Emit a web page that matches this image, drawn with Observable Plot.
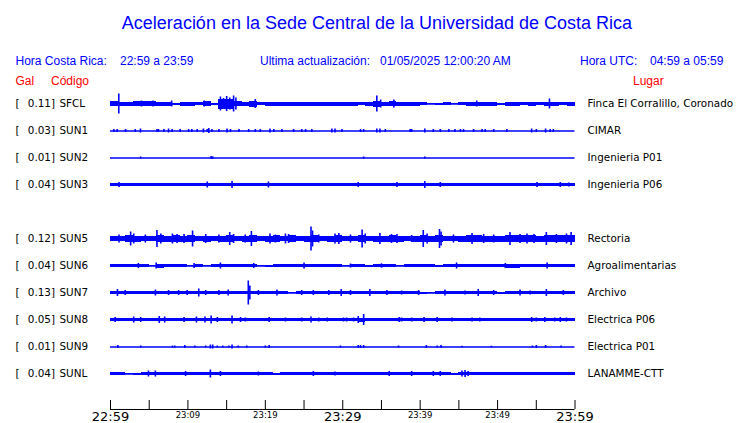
<!DOCTYPE html>
<html><head><meta charset="utf-8">
<script src="https://cdn.jsdelivr.net/npm/d3@7"></script>
<script src="https://cdn.jsdelivr.net/npm/@observablehq/plot@0.6"></script>
<style>
body{margin:0;background:#fff;}
#wrap{position:relative;width:740px;height:423px;overflow:hidden;background:#fff;}
#head{position:absolute;left:0;top:0;}
#traces{position:absolute;left:0;top:90px;}
#axis{position:absolute;left:0;top:386px;}
</style></head><body>
<div id="wrap"><svg id="head" width="740" height="89"></svg><div id="axis"></div><div id="traces"></div></div>
<script>
// ---- text ----
const title = "Aceleración en la Sede Central de la Universidad de Costa Rica";
const hdrCR = ["Hora Costa Rica:", "22:59 a 23:59"];
const hdrUpd = ["Ultima actualización:", "01/05/2025 12:00:20 AM"];
const hdrUTC = ["Hora UTC:", "04:59 a 05:59"];
const colHeads = ["Gal", "Código", "Lugar"];

// ---- stations ----
const slots = ["SFCL","SUN1","SUN2","SUN3","SUN4","SUN5","SUN6","SUN7","SUN8","SUN9","SUNL"];
const codes = ["SFCL","SUN1","SUN2","SUN3","SUN5","SUN6","SUN7","SUN8","SUN9","SUNL"];
const gal = [0.11,0.03,0.01,0.04,0.12,0.04,0.13,0.05,0.01,0.04];
const places = ["Finca El Corralillo, Coronado","CIMAR","Ingenieria P01","Ingenieria P06","Rectoria","Agroalimentarias","Archivo","Electrica P06","Electrica P01","LANAMME-CTT"];

// ---- per-minute envelope (relative amplitude) ----
const envSFCL = [2.5,2,2,2.2,2.5,2.2,2,2,1,2, 2,1.5,2.5,1,5,5,2.5,2,3,1.5, 2,2,2,2,2,2,2,2,2,2, 2,2,1.5,2,3,2,2.5,2,2,2, 1.5,0.5,1,1.5,0.5,1.5,2,2,2,2, 1,2,2,1.5,2,1.5,2,2,1.5,2];
const envSUN1 = [];
const envSUN2 = [];
const envSUN3 = [1.5,1.5,1.2,1.5,1.5,1.3,1.2,1.5,1.5,1.5, 1.5,1.5,1.5,1.2,1.5,1.5,1.5,1.5,1.5,1.5, 1.5,1.5,1.5,1.3,1.5,1.5,1.5,1.2,1.5,1.5, 1.3,1.5,1.5,1.5,1.2,1.5,1.5,1.5,1.5,1.3, 1.5,1.5,1.5,1.5,1.5,1.5,1.5,1.5,1.5,1.5, 1.3,1.5,1.5,1.5,1.3,1.5,1.3,1.5,1.3,1.5];
const envSUN5 = [2.8,2.8,3.5,3,2.8,2.8,3.5,3,3.2,3, 3.5,2.8,3,2.8,3,3.5,2.8,3,3.5,2.8, 3,3.5,2.8,3.2,2.8,3,3.5,2.8,3,3.5, 2.8,2.8,3.5,2.8,3,3,3.5,3,2.8,3, 3.5,3,3.5,2.8,2.8,3,3.2,3.2,3,3, 3,3.5,3.2,3.2,3.2,3,3.5,3.2,3.2,3.5];
const envSUN6 = [1.8,1.8,1.8,1.8,1.8,0.5,2,1.8,1.8,1.8, 0.8,1.2,0.8,1.8,1.8,1.8,1.8,1.8,1.2,0.3, 1,1.8,1.8,1.8,1.8,1.8,1.8,1.8,1.8,1.8, 0.8,1.8,1.8,1,1.8,1.8,1.2,0.8,1.8,1.8, 1.8,1.8,1,1.8,1.8,1.8,1.8,1.8,1.8,1.2, 1.2,2,2,1.2,1.8,1.8,1.8,1.8,1.8,1.8];
const envSUN7 = [1.5,1.5,1.5,1.5,1.5,1.5,1.5,1.5,1.5,1.5, 1.5,1.5,1.5,1.5,1.5,1.5,1.3,1.5,1.5,1.5, 1.5,1.5,1.5,0.8,1.5,1.5,1.5,1.5,1.3,1.5, 1.5,1.5,1.5,1.5,1.5,1.5,1.5,1.5,1.5,1.5, 1,0.8,1.5,1.5,1.5,1.5,1.5,1.5,1.5,1.5, 1,1.2,1.5,1.5,1.5,1.5,1.5,1.5,1.5,1.5];
const envSUN8 = [1.7,1.3,1.7,1.7,1.7,1.7,1.7,1.7,1.7,1.7, 1.7,1.7,1.7,1.9,1.7,1.7,1.7,1.7,1.7,1.7, 1.7,1.7,1.7,1.7,1.7,1.7,1.7,1.7,1.7,1.7, 1.7,1.7,2,1.7,1.7,1.7,1.7,1.7,1.7,1.7, 1.7,1.7,1.7,1.7,1.7,1.7,1.7,1.7,1.7,1.7, 1.7,1.7,1.7,1.7,1.7,1.7,1.7,1.7,1.7,1.7];
const envSUN9 = [];
const envSUNL = [1.7,1.7,0.8,1,1.5,1.7,1.7,1.7,1.7,1.7, 1.7,1.7,1.7,1.7,1.7,1.7,1.7,1.7,1.7,1.7, 1.7,1,1.2,1.7,1.7,1.7,1.7,1.7,1.7,1.7, 1.7,1.7,1.7,1.7,1.7,1.7,1.7,1.7,1.7,1.7, 1.7,1.7,1.7,1.7,1,1.7,1.7,1.7,1.7,1.3, 1.3,1.7,1.7,1.7,1.7,1.7,1.7,1.7,1.7,1.7];

// ---- spikes [minute, relative amplitude] ----
const spkSFCL = [[1.07,10],[4.0,3],[5.5,3],[7.9,3],[12.1,3],[14.2,7],[14.6,5.5],[15.0,7.5],[15.4,6],[15.9,8],[16.2,6],[18.7,4.5],[34.4,8],[34.9,4],[36.6,4],[47.3,3],[56.7,5]];
const spkSUN1 = [[0.43,1.5],[0.86,1.5],[1.94,1.5],[3.2,1.5],[3.87,2],[6.0,1.5],[6.2,1.5],[6.9,1.5],[7.5,2],[7.96,1.5],[9.0,1.5],[10.1,1.5],[10.5,1.5],[11.2,1.5],[12.0,2],[12.5,1.5],[12.7,2.5],[13.1,1.5],[14.0,1.5],[15.05,2],[15.5,1.5],[16.6,1.5],[17.85,1.5],[18.7,1.5],[19.35,1.5],[20.6,2],[21.1,1.5],[22.15,1.5],[23.65,1.5],[24.7,1.5],[25.2,1.5],[26.0,1.5],[28.6,2],[29.0,2],[29.9,1.5],[32.3,1.5],[32.7,1.5],[34.4,2],[34.8,2],[35.5,1.5],[38.7,1.5],[38.9,1.5],[40.6,2],[41.7,1.5],[42.6,1.5],[43.7,1.5],[44.5,1.5],[45.2,1.5],[45.6,1.5],[46.9,1.5],[48.0,1.5],[48.4,1.5],[49.5,1.5],[51.2,1.5],[54.4,2],[55.0,1.5],[56.2,2],[56.8,1.5],[57.2,1.5]];
const spkSUN2 = [[3.9,1],[13.0,1.5],[13.2,1.2],[32.7,1],[40.6,1]];
const spkSUN3 = [[1.1,2.5],[12.5,3],[15.7,3.5],[20.4,3],[32.0,2.5],[37,2.5],[40.6,3.5],[42.6,2.5],[55.1,2.5],[58.1,2.5],[59.2,2]];
const spkSUN5 = [[1.1,4],[2.6,7],[3.0,5],[4.5,4],[6.0,8.5],[6.5,5],[8.0,5],[8.6,4.5],[9.5,4.5],[10.6,8],[12.3,4.5],[14.0,4],[15.4,6.5],[15.9,4.5],[17.4,4],[18.2,7.5],[20.6,5],[21.3,4],[22.6,5],[23.0,4.5],[25.9,12],[26.1,8],[26.9,4],[29.0,5],[29.5,5.5],[31.0,4],[32.5,9],[32.9,5],[34.8,5.5],[36.3,4.5],[37.0,4.5],[38.9,3.5],[40.4,8.5],[40.9,5],[42.5,9.5],[42.7,7],[44.3,4],[46.7,5.5],[48.2,4.5],[49.5,4],[51.6,6.5],[52.9,4.5],[53.8,5],[54.7,4.5],[56.3,6.5],[57.6,4.5],[58.9,5],[59.5,6.5]];
const spkSUN6 = [[3.6,2.5],[5.9,3],[10.8,2.5],[14.2,3],[18.5,2.5],[25.0,3],[31.0,2],[35.0,2.2],[44.7,3],[51.0,2.5],[56.4,3]];
const spkSUN7 = [[0.9,3.5],[1.9,2.5],[5.8,3],[7.5,2.5],[8.8,2.5],[9.9,2.5],[11.4,4],[12.3,2.5],[14.0,2.5],[15.2,3],[17.8,12],[18.0,7],[19.1,2.5],[21.5,3],[24.7,2.5],[26.2,2.5],[28.2,2.5],[29.8,3.5],[31.0,2.5],[33.5,3.5],[35.7,2.5],[37.6,2],[39.8,2.5],[43.2,3],[45.8,2],[47.5,3.5],[49.5,2.5],[52.9,3],[54.2,2],[56.3,3.5],[58.5,2.5]];
const spkSUN8 = [[0.6,2.5],[3.0,3],[3.9,2.5],[6.3,3.5],[7.0,3],[9.5,2.5],[11.1,3],[12.2,3],[13.0,4],[13.8,2.5],[15.7,4],[16.8,2.5],[17.4,2],[20.5,2.5],[22.6,2],[24.7,2],[25.9,3],[26.9,2],[28.0,2],[30.1,2],[30.5,2],[31.4,2],[32.0,3.5],[32.7,5.5],[37.3,2.5],[37.6,2],[38.9,2],[40.5,2.5],[42.2,2.5],[44.1,2],[46.7,2],[47.7,2],[54.4,2.5],[55.0,2],[56.1,2.5],[57.4,2],[58.1,2.5],[58.9,2]];
const spkSUN9 = [[0.95,1.5],[3.9,1],[8.0,1],[8.3,1],[9.6,1.5],[10.9,1],[12.3,1],[12.9,2],[13.2,2],[13.8,1],[14.5,1],[15.3,1],[15.7,2],[16.5,1],[17.6,1],[20.0,1],[20.5,1.5],[29.7,1],[32.0,1.5],[32.3,1.5],[32.7,1.5],[37.2,1],[40.8,1.5],[42.2,1],[42.7,1.5],[45.4,0.8],[49.2,0.8],[54.5,1],[55.0,1.5],[56.2,1.5],[58.2,1]];
const spkSUNL = [[4.9,3],[5.8,3],[9.7,2.5],[12.9,4],[14.2,2.5],[19.1,2],[26.2,2.5],[29.0,2],[36.0,2.5],[38.9,2.5],[41.7,2.5],[42.6,2.5],[45.4,3],[45.8,3.5],[46.2,2.5]];

// ---- time axis ----
const tickMinutes = [0,5,10,15,20,25,30,35,40,45,50,55,60];
const labelMinutes = [0,10,20,30,40,50,60];
const tickLabels = ["22:59","23:09","23:19","23:29","23:39","23:49","23:59"];

// ---- build tables ----
const envs = [envSFCL,envSUN1,envSUN2,envSUN3,envSUN5,envSUN6,envSUN7,envSUN8,envSUN9,envSUNL];
const spks = [spkSFCL,spkSUN1,spkSUN2,spkSUN3,spkSUN5,spkSUN6,spkSUN7,spkSUN8,spkSUN9,spkSUNL];
const stations = codes.map((c,i)=>({code:c, gal:gal[i], place:places[i]}));
const envRows = [], spkRows = [];
codes.forEach((c,i)=>{
  envs[i].forEach((a,m)=>envRows.push({code:c, m, a}));
  spks[i].forEach(([t,a])=>spkRows.push({code:c, t, a}));
});
const labels = labelMinutes.map((m,i)=>({m, label:tickLabels[i], major: m % 30 === 0}));

const BLUE = "#0000ff";

// ---- header ----
const head = d3.select("#head").attr("font-family","Liberation Sans, Arial, sans-serif");
head.append("text").attr("x",377).attr("y",29).attr("text-anchor","middle").attr("font-size",18).attr("fill",BLUE).text(title);
const hdr = [[15.5,hdrCR[0]],[120,hdrCR[1]],[260,hdrUpd[0]],[380,hdrUpd[1]],[580,hdrUTC[0]],[650,hdrUTC[1]]];
hdr.forEach(([x,t])=>head.append("text").attr("x",x).attr("y",65).attr("font-size",12).attr("fill",BLUE).text(t));
[[15.5,colHeads[0]],[51,colHeads[1]],[633,colHeads[2]]].forEach(([x,t])=>head.append("text").attr("x",x).attr("y",85).attr("font-size",12).attr("fill","#ff0000").text(t));

// ---- traces ----
const traces = Plot.plot({
  width: 740, height: 297,
  marginLeft: 110, marginRight: 165.5, marginTop: 0, marginBottom: 0,
  style: {fontFamily: "DejaVu Sans", fontSize: "10.4px", background: "transparent", overflow: "visible"},
  x: {domain: [0, 60], axis: null},
  y: {domain: [-13.5, 13.5], axis: null},
  fy: {domain: slots, axis: null, padding: 0},
  marks: [
    Plot.ruleY(stations, {fy: "code", y: () => 0, stroke: BLUE, strokeWidth: 1.5}),
    Plot.rect(envRows, {fy: "code", x1: "m", x2: d => d.m + 1, y1: d => -d.a, y2: d => d.a, fill: BLUE, shapeRendering: "crispEdges"}),
    Plot.ruleX(spkRows, {fy: "code", x: "t", y1: d => -d.a, y2: d => d.a, stroke: BLUE, strokeWidth: 1.6}),
    Plot.text(stations, {fy: "code", frameAnchor: "left", dx: -95, text: () => "[", textAnchor: "start", fill: "black"}),
    Plot.text(stations, {fy: "code", frameAnchor: "left", dx: -55.5, text: d => d.gal.toFixed(2) + "]", textAnchor: "end", fill: "black"}),
    Plot.text(stations, {fy: "code", frameAnchor: "left", dx: -51, text: "code", textAnchor: "start", fill: "black"}),
    Plot.text(stations, {fy: "code", frameAnchor: "right", dx: 12.5, text: "place", textAnchor: "start", fill: "black"})
  ]
});
document.getElementById("traces").appendChild(traces);

// ---- axis ----
const axis = Plot.plot({
  width: 740, height: 37,
  marginLeft: 110, marginRight: 165.5, marginTop: 14, marginBottom: 14,
  style: {fontFamily: "DejaVu Sans", background: "white", overflow: "visible"},
  x: {domain: [0, 60], axis: null},
  y: {domain: [0, 1], axis: null},
  marks: [
    Plot.ruleY([0], {stroke: "black"}),
    Plot.tickX(tickMinutes, {x: d => d, stroke: "black"}),
    Plot.text(labels, {x: "m", y: () => 0, text: "label", lineAnchor: "top", dy: 2, fontSize: d => d.major ? 13 : 8.5, fill: "black"})
  ]
});
document.getElementById("axis").appendChild(axis);
</script>
</body></html>
